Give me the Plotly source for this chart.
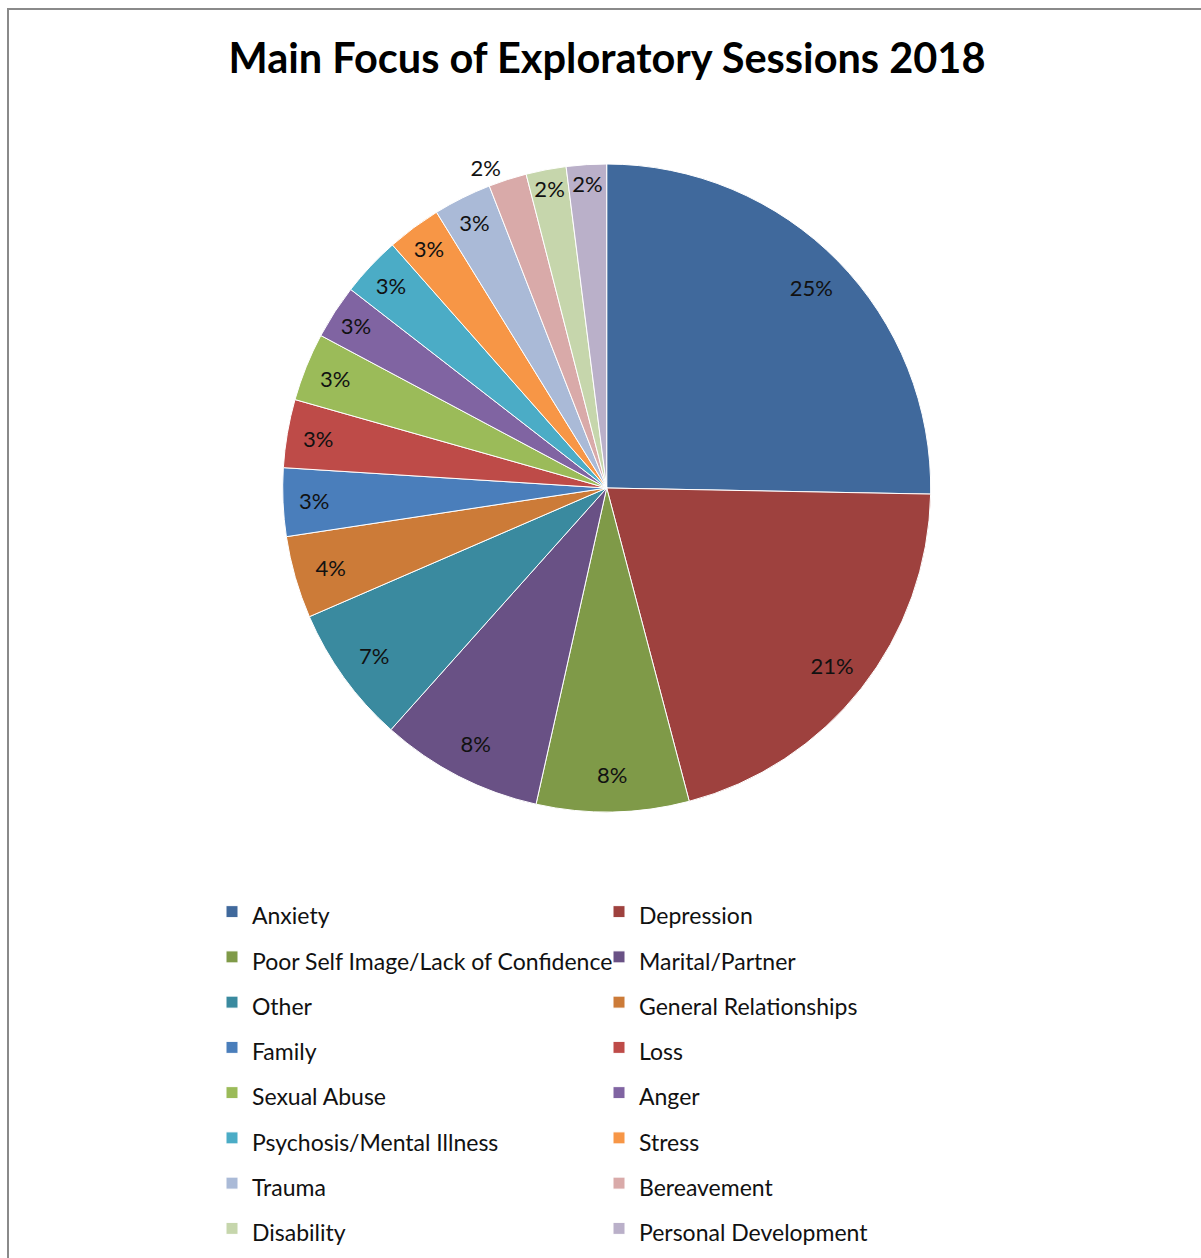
import plotly.graph_objects as go

# Share of exploratory sessions by main focus (percent of sessions)
categories = [
    "Anxiety", "Depression", "Poor Self Image/Lack of Confidence", "Marital/Partner",
    "Other", "General Relationships", "Family", "Loss", "Sexual Abuse", "Anger",
    "Psychosis/Mental Illness", "Stress", "Trauma", "Bereavement", "Disability",
    "Personal Development",
]
shares = [25.3, 20.6, 7.6, 8.1, 6.9, 4.1, 3.4, 3.4, 3.4, 2.7, 3.0, 2.7, 2.9, 1.9, 2.0, 2.0]

slice_colors = [
    "#40699C", "#9E413E", "#7F9A48", "#695185", "#3A8A9F", "#CC7B38",
    "#4A7EBB", "#BE4B48", "#9BBB59", "#8064A2", "#4BACC6", "#F79646",
    "#AABAD7", "#D9AAA9", "#C6D6AC", "#BAB0C9",
]
label_positions = ["inside"] * len(categories)
label_positions[categories.index("Bereavement")] = "outside"

FONT = "Lato"
W, H = 1201, 1258
ML, MR = 150, 150          # side margins keep the legend to two columns
PW = W - ML - MR           # plot-area width in px


def px_x(x):
    return (x - ML) / PW


def px_y(y):
    return 1 - y / H


pie_domain = dict(x=[px_x(282.7), px_x(930.7)], y=[px_y(812), px_y(164)])
legend_labels = [f"<span style='font-size:23px'>{c}</span>" for c in categories]

fig = go.Figure()

# coloured slices with the legend
fig.add_trace(
    go.Pie(
        labels=legend_labels,
        values=shares,
        sort=False,
        direction="clockwise",
        rotation=0,
        marker=dict(colors=slice_colors, line=dict(color="white", width=1)),
        textinfo="none",
        hoverinfo="label+percent",
        domain=pie_domain,
    )
)

# percentage labels placed in the outer ring of the same pie
fig.add_trace(
    go.Pie(
        labels=legend_labels,
        values=shares,
        sort=False,
        direction="clockwise",
        rotation=0,
        hole=0.77,
        marker=dict(colors=["rgba(0,0,0,0)"] * len(categories), line=dict(width=0)),
        texttemplate="%{percent:.0%}",
        textposition=label_positions,
        insidetextorientation="horizontal",
        textfont=dict(family=FONT, size=22, color="#111111"),
        hoverinfo="skip",
        showlegend=False,
        domain=pie_domain,
    )
)

fig.update_layout(
    width=W,
    height=H,
    margin=dict(l=ML, r=MR, t=0, b=0),
    paper_bgcolor="white",
    plot_bgcolor="white",
    font=dict(family=FONT, color="#111111"),
    title=dict(
        text="<b>Main Focus of Exploratory Sessions 2018</b>",
        font=dict(family=FONT, size=41.5, color="black"),
        x=607 / W,
        xanchor="center",
        y=1 - 58 / H,
        yanchor="middle",
    ),
    uniformtext=dict(minsize=22, mode="show"),
    showlegend=True,
    legend=dict(
        orientation="h",
        x=px_x(212),
        xanchor="left",
        y=2 / H,
        yanchor="bottom",
        entrywidth=342,
        entrywidthmode="pixels",
        font=dict(family=FONT, size=32.5, color="#111111"),
        traceorder="normal",
    ),
    shapes=[
        dict(
            type="rect", xref="paper", yref="paper",
            x0=px_x(8), x1=px_x(1240), y0=-0.05, y1=px_y(9),
            line=dict(color="#8a8a8a", width=2),
            fillcolor="rgba(0,0,0,0)",
        )
    ],
)

fig.write_html("out.html")
